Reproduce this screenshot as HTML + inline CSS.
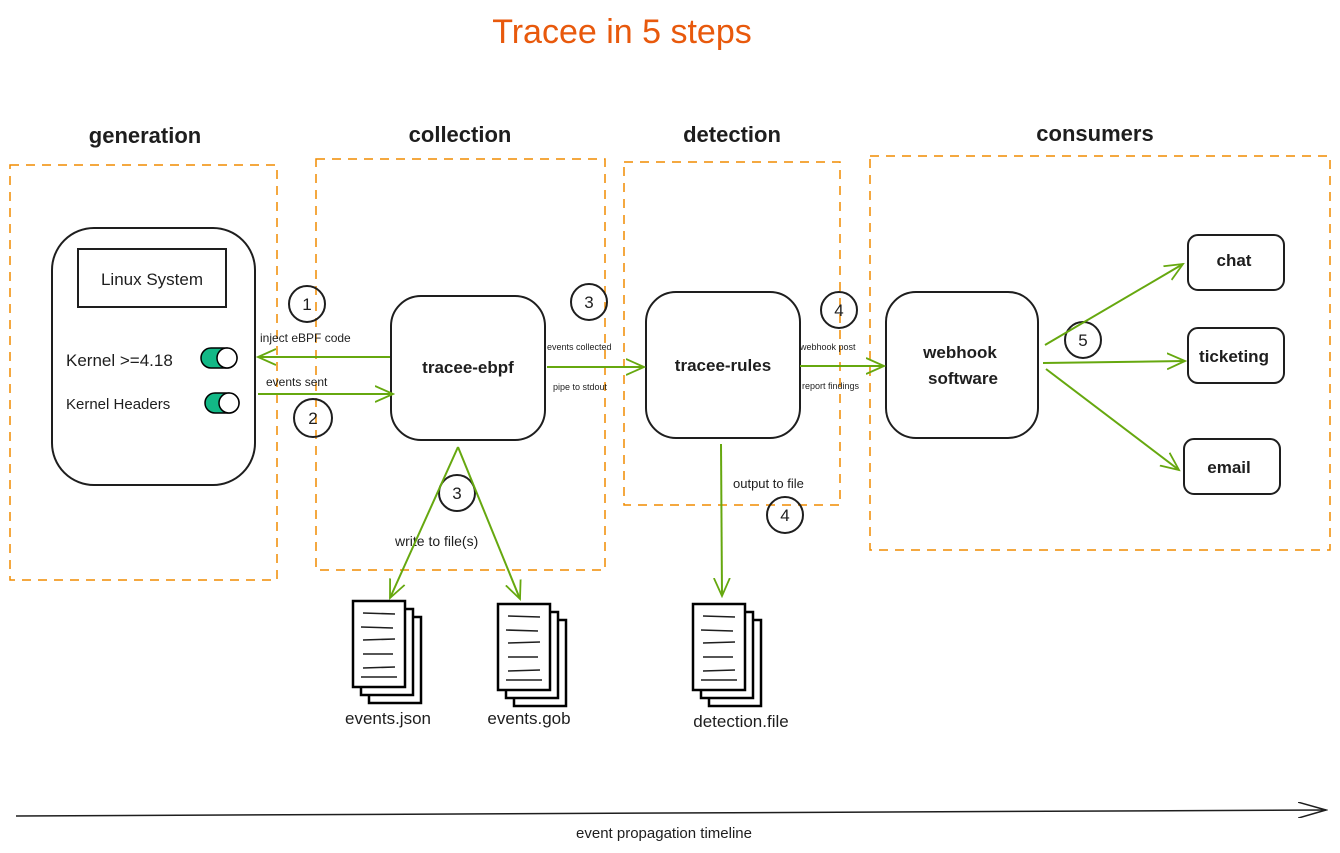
<!DOCTYPE html>
<html><head><meta charset="utf-8"><style>
html,body{margin:0;padding:0;background:#fff;}
svg{display:block;}
text{font-family:"Liberation Sans",sans-serif;fill:#1e1e1e;}
</style></head><body>
<svg width="1340" height="853" viewBox="0 0 1340 853" xmlns="http://www.w3.org/2000/svg">
<defs>
<marker id="ag" markerWidth="20" markerHeight="20" refX="18" refY="10" orient="auto" markerUnits="userSpaceOnUse"><path d="M0,2 L18,10 L0,18" fill="none" stroke="#66a80f" stroke-width="1.8"/></marker>
<marker id="ab" markerWidth="30" markerHeight="16" refX="28" refY="8" orient="auto" markerUnits="userSpaceOnUse"><path d="M0,0 L28,8 L0,16" fill="none" stroke="#1e1e1e" stroke-width="1.5"/></marker>
<g id="doc">
<rect x="16" y="16" width="52" height="86" fill="#fff" stroke="#000" stroke-width="2.5"/>
<rect x="8" y="8" width="52" height="86" fill="#fff" stroke="#000" stroke-width="2.5"/>
<rect x="0" y="0" width="52" height="86" fill="#fff" stroke="#000" stroke-width="2.5"/>
<g stroke="#1e1e1e" stroke-width="1.5"><line x1="10" y1="12" x2="42" y2="13"/><line x1="8" y1="26" x2="40" y2="27"/><line x1="10" y1="39" x2="42" y2="38"/><line x1="10" y1="53" x2="40" y2="53"/><line x1="10" y1="67" x2="42" y2="66"/><line x1="8" y1="76" x2="44" y2="76"/></g>
</g>
</defs>
<text x="622" y="43" font-size="34" text-anchor="middle" style="fill:#e8590c">Tracee in 5 steps</text>
<g font-size="22" text-anchor="middle" style="font-weight:600">
<text x="145" y="143">generation</text><text x="460" y="142">collection</text><text x="732" y="142">detection</text><text x="1095" y="141">consumers</text>
</g>
<g fill="none" stroke="#f08c00" stroke-width="1.5" stroke-dasharray="9 7">
<rect x="10" y="165" width="267" height="415"/>
<rect x="316" y="159" width="289" height="411"/>
<rect x="624" y="162" width="216" height="343"/>
<rect x="870" y="156" width="460" height="394"/>
</g>
<g fill="none" stroke="#1e1e1e" stroke-width="2">
<rect x="52" y="228" width="203" height="257" rx="42"/>
<rect x="78" y="249" width="148" height="58"/>
<rect x="391" y="296" width="154" height="144" rx="30"/>
<rect x="646" y="292" width="154" height="146" rx="30"/>
<rect x="886" y="292" width="152" height="146" rx="30"/>
<rect x="1188" y="235" width="96" height="55" rx="10"/>
<rect x="1188" y="328" width="96" height="55" rx="10"/>
<rect x="1184" y="439" width="96" height="55" rx="10"/>
<circle cx="307" cy="304" r="18"/><circle cx="313" cy="418" r="19"/><circle cx="589" cy="302" r="18"/><circle cx="457" cy="493" r="18"/><circle cx="839" cy="310" r="18"/><circle cx="785" cy="515" r="18"/><circle cx="1083" cy="340" r="18"/>
</g>
<rect x="201" y="348" width="36" height="20" rx="10" fill="#12b886" stroke="#000" stroke-width="1.5"/>
<circle cx="227" cy="358" r="10" fill="#fff" stroke="#000" stroke-width="1.5"/>
<rect x="205" y="393" width="34" height="20" rx="10" fill="#12b886" stroke="#000" stroke-width="1.5"/>
<circle cx="229" cy="403" r="10" fill="#fff" stroke="#000" stroke-width="1.5"/>
<g font-size="17"><text x="152" y="285" text-anchor="middle">Linux System</text>
<text x="66" y="366">Kernel &gt;=4.18</text><text x="66" y="409" font-size="15">Kernel Headers</text></g>
<g font-size="17" text-anchor="middle" style="font-weight:600">
<text x="468" y="373">tracee-ebpf</text><text x="723" y="371">tracee-rules</text>
<text x="960" y="358">webhook</text><text x="963" y="384">software</text>
<text x="1234" y="266">chat</text><text x="1234" y="362">ticketing</text><text x="1229" y="473">email</text>
</g>
<g font-size="17" text-anchor="middle">
<text x="307" y="310">1</text><text x="313" y="424">2</text><text x="589" y="308">3</text><text x="457" y="499">3</text><text x="839" y="316">4</text><text x="785" y="521">4</text><text x="1083" y="346">5</text>
</g>
<g font-size="12"><text x="260" y="342">inject eBPF code</text><text x="266" y="386">events sent</text><text x="395" y="546" font-size="14">write to file(s)</text><text x="733" y="488" font-size="13">output to file</text></g>
<g font-size="9"><text x="547" y="350">events collected</text><text x="553" y="390">pipe to stdout</text><text x="800" y="350">webhook post</text><text x="802" y="389">report findings</text></g>
<g stroke="#66a80f" stroke-width="2" fill="none" marker-end="url(#ag)">
<line x1="390" y1="357" x2="258" y2="357"/>
<line x1="258" y1="394" x2="393" y2="394"/>
<line x1="547" y1="367" x2="644" y2="367"/>
<line x1="800" y1="366" x2="884" y2="366"/>
<line x1="458" y1="447" x2="390" y2="598"/>
<line x1="458" y1="447" x2="520" y2="599"/>
<line x1="721" y1="444" x2="722" y2="596"/>
<line x1="1045" y1="345" x2="1183" y2="264"/>
<line x1="1043" y1="363" x2="1185" y2="361"/>
<line x1="1046" y1="369" x2="1179" y2="470"/>
</g>
<use href="#doc" x="353" y="601"/><use href="#doc" x="498" y="604"/><use href="#doc" x="693" y="604"/>
<g font-size="17" text-anchor="middle"><text x="388" y="724">events.json</text><text x="529" y="724">events.gob</text><text x="741" y="727">detection.file</text></g>
<line x1="16" y1="816" x2="1326" y2="810" stroke="#1e1e1e" stroke-width="1.5" marker-end="url(#ab)"/>
<text x="664" y="838" font-size="15" text-anchor="middle">event propagation timeline</text>
</svg>
</body></html>
